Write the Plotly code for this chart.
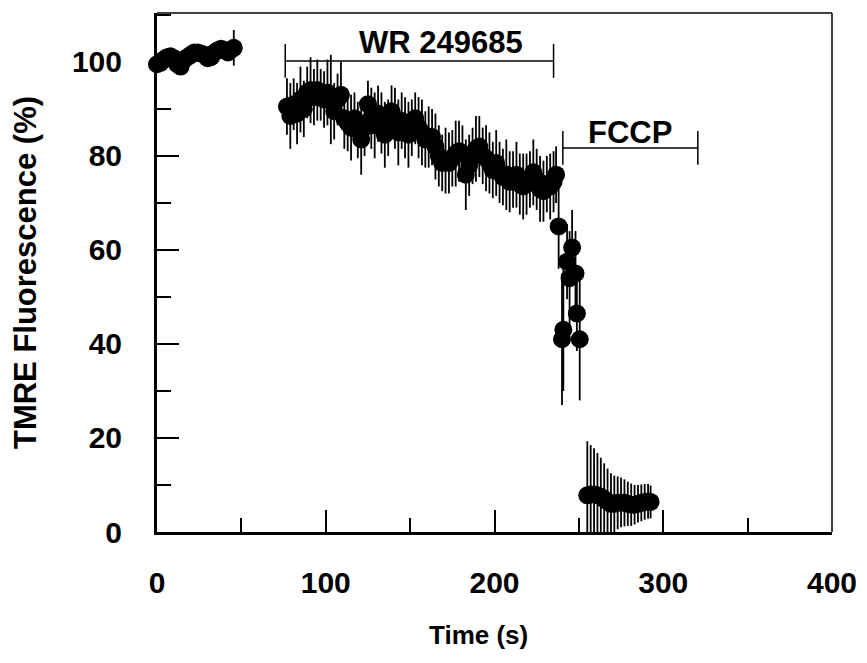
import plotly.graph_objects as go

# ---- data ----
time_baseline = [0, 2, 4, 6, 8, 10, 12, 14, 16, 18, 20, 22, 24, 26, 28, 30, 32, 34, 36, 38, 40, 42, 44, 45.5]
tmre_baseline = [99.5, 99.8, 100.5, 101, 101.2, 100.8, 99.5, 99, 100.5, 101, 101.5, 102, 102, 101.8, 101.5,
                 100.8, 101, 102, 102.5, 102.8, 102.5, 102, 102.6, 103]
err_baseline = [1, 1, 1, 1, 1, 1, 1, 1, 1, 1, 1, 1, 1, 1, 1, 1, 1, 1, 1, 1, 1, 1, 1, 3.8]

time_wr = [77, 79, 81, 83, 85, 87, 89, 91, 93, 95, 97, 99, 101, 103, 105, 107, 109, 111, 113, 115,
           117, 119, 121, 123, 125, 127, 129, 131, 133, 135, 137, 139, 141, 143, 145, 147, 149, 151,
           153, 155, 157, 159, 161, 163, 165, 167, 169, 171, 173, 175, 177, 179, 181, 183, 185, 187,
           189, 191, 193, 195, 197, 199, 201, 203, 205, 207, 209, 211, 213, 215, 217, 219, 221, 223,
           225, 227, 229, 231, 233, 235, 236.5]
tmre_wr = [90.5, 88.5, 91, 89, 92, 90, 93.5, 94, 92.5, 94, 93, 92, 93.5, 92, 89.5, 92, 93, 88, 87, 86,
           88, 85.5, 83.5, 86, 91, 88, 86.5, 89, 87, 84.5, 86, 89.5, 88, 85, 87.5, 86, 84.5, 86,
           88, 86, 85, 83.5, 84, 84, 82, 80, 78.5, 79, 78.5, 79.5, 80.5, 81, 80.5, 76, 78, 80,
           81.5, 82, 80, 79.5, 78.5, 77, 78.5, 76.5, 75.5, 76, 74.5, 75, 76, 74, 73.5, 74, 75, 76.5,
           75, 73, 72.5, 74, 73.5, 74.5, 76]
err_wr = [6, 7, 5.5, 6.5, 7, 6, 5.5, 7, 6, 6.5, 5.5, 6, 7, 9.5, 6, 5.5, 7, 6.5, 6, 7,
          5.5, 6, 7.5, 6, 5, 6.5, 7, 6, 6.5, 7, 6, 5.5, 6.5, 7, 6, 6.5, 7, 6,
          5.5, 6.5, 7, 6, 6.5, 6, 7, 6.5, 6, 7, 6.5, 6, 7, 6.5, 6, 7.5, 6.5, 6,
          7, 6.5, 6, 7, 6.5, 6, 7, 6.5, 6, 7.5, 6.5, 6, 7, 6.5, 7, 6.5, 6, 7,
          6.5, 7, 6.5, 6, 7, 6.5, 6]

time_drop = [238, 240, 240.8, 243, 244.5, 246, 248, 248.8, 250.5]
tmre_drop = [65, 41, 43, 57.5, 54, 60.5, 55, 46.5, 41]
err_drop = [9, 14, 13, 8, 10, 8, 9, 8, 13]

time_fccp = [255, 257, 259, 261, 263, 265, 267, 269, 271, 273, 275, 277, 279, 281, 283, 285, 287, 289, 291, 292.5]
tmre_fccp = [7.8, 8, 8, 7.8, 7.5, 7, 6.5, 6, 6, 6.2, 6.3, 6.2, 6, 5.8, 5.8, 6, 6.2, 6.4, 6.5, 6.4]
err_fccp = [11.5, 10.5, 9.8, 9, 8.3, 7.6, 7, 6.5, 6, 5.6, 5.3, 5, 4.7, 4.5, 4.2, 4, 3.9, 3.8, 3.7, 3.5]

# treatment bars: [start, end, level], label position
wr_bar = [76, 235, 100.2]
wr_label = ["WR 249685", 168, 104.2]
fccp_bar = [240.5, 320.5, 81.7]
fccp_label = ["FCCP", 280, 85.0]
bar_tick_half = 3.6

x_tick_vals = [0, 100, 200, 300, 400]
y_tick_vals = [0, 20, 40, 60, 80, 100]
x_title = "Time (s)"
y_title = "TMRE Fluorescence (%)"

time_all = time_baseline + time_wr + time_drop + time_fccp
tmre_all = tmre_baseline + tmre_wr + tmre_drop + tmre_fccp
err_all = err_baseline + err_wr + err_drop + err_fccp

FONT = "Liberation Sans, Arial, sans-serif"

fig = go.Figure()
fig.add_trace(go.Scatter(
    x=time_all, y=tmre_all, mode="markers",
    marker=dict(color="black", size=18, line=dict(width=0)),
    error_y=dict(type="data", array=err_all, visible=True, color="black", thickness=1.8, width=0),
    cliponaxis=False, showlegend=False,
))

# treatment bars as lines with end ticks
for start, end, level in [wr_bar, fccp_bar]:
    fig.add_shape(type="line", x0=start, x1=end, y0=level, y1=level,
                  line=dict(color="black", width=1.5), layer="above")
    for xe in (start, end):
        fig.add_shape(type="line", x0=xe, x1=xe, y0=level - bar_tick_half, y1=level + bar_tick_half,
                      line=dict(color="black", width=1.5), layer="above")

for text, xt, yt in [wr_label, fccp_label]:
    fig.add_annotation(x=xt, y=yt, text="<b>%s</b>" % text, showarrow=False,
                       font=dict(family=FONT, size=31, color="black"))

# x-axis title (placed slightly left of centre, as in the original)
fig.add_annotation(xref="paper", yref="paper", x=0.477, y=-0.1985, text="<b>%s</b>" % x_title,
                   showarrow=False, xanchor="center", yanchor="middle",
                   font=dict(family=FONT, size=26, color="black"))

# thin top and right frame
fig.add_shape(type="line", xref="paper", yref="paper", x0=0, x1=1, y0=1, y1=1,
              line=dict(color="black", width=1.5))
fig.add_shape(type="line", xref="paper", yref="paper", x0=1, x1=1, y0=0, y1=1,
              line=dict(color="black", width=1.5))

# the page body has an 8 px margin, so the figure is sized to fill the rest of the window
fig.update_layout(
    width=859, height=655,
    margin=dict(l=149, r=35, t=5, b=131, autoexpand=False),
    paper_bgcolor="white", plot_bgcolor="white",
    font=dict(family=FONT, color="black"),
    xaxis=dict(
        range=[0, 400], tickvals=x_tick_vals, ticktext=["<b>%d</b>" % v for v in x_tick_vals],
        ticks="inside", ticklen=22, tickwidth=2, tickcolor="black",
        minor=dict(dtick=50, tick0=0, ticks="inside", ticklen=14, tickwidth=2, tickcolor="black", showgrid=False),
        showline=True, linecolor="black", linewidth=3, showgrid=False, zeroline=False,
        tickfont=dict(family=FONT, size=30), ticklabelstandoff=22, automargin=False,
    ),
    yaxis=dict(
        range=[0, 110.4], tickvals=y_tick_vals, ticktext=["<b>%d</b>" % v for v in y_tick_vals],
        ticks="inside", ticklen=22, tickwidth=2, tickcolor="black",
        minor=dict(dtick=10, tick0=0, ticks="inside", ticklen=14, tickwidth=2, tickcolor="black", showgrid=False),
        showline=True, linecolor="black", linewidth=3, showgrid=False, zeroline=False,
        tickfont=dict(family=FONT, size=30), ticklabelstandoff=26, automargin=False,
        title=dict(text="<b>%s</b>" % y_title, font=dict(family=FONT, size=31), standoff=28),
    ),
)

fig.write_html("out.html")
